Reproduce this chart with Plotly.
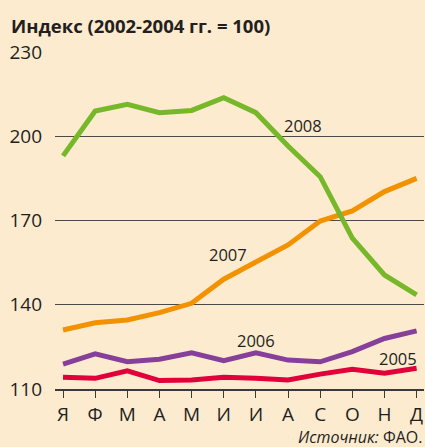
import plotly.graph_objects as go

months = ["Я", "Ф", "М", "А", "М", "И", "И", "А", "С", "О", "Н", "Д"]
y2008 = [193, 209, 211.4, 208.4, 209.2, 213.7, 208.4, 196.5, 185.6, 163.7, 150.6, 143.5]
y2007 = [131, 133.6, 134.6, 137.2, 140.5, 149.1, 155.2, 161.3, 169.8, 173.4, 180.3, 185]
y2006 = [118.9, 122.5, 119.7, 120.6, 122.9, 120.1, 122.9, 120.3, 119.7, 123.3, 128, 130.7]
y2005 = [114.2, 113.8, 116.5, 113, 113.2, 114.2, 113.8, 113.2, 115.3, 117, 115.6, 117.4]
y_ticks = [110, 140, 170, 200, 230]

series = [
    ("2005", y2005, "#e2003a"),
    ("2006", y2006, "#86409a"),
    ("2007", y2007, "#f39200"),
    ("2008", y2008, "#76b82a"),
]
labels = [("2008", 7.47, 204), ("2007", 5.13, 158), ("2006", 6.0, 127.2), ("2005", 10.41, 120.9)]

xs = list(range(len(months)))
fig = go.Figure()
for name, ys, col in series:
    fig.add_trace(go.Scatter(x=xs, y=ys, mode="lines", name=name,
                             line=dict(color=col, width=5), showlegend=False,
                             hoverinfo="skip"))

txt = "#231f20"
for t, x, y in labels:
    fig.add_annotation(x=x, y=y, text=t, showarrow=False,
                       font=dict(size=16.5, color=txt, family="Open Sans"))

fig.add_annotation(xref="paper", yref="paper", x=-0.124, y=1.080, xanchor="left", yanchor="middle",
                   text="<b>Индекс (2002-2004 гг. = 100)</b>", showarrow=False,
                   font=dict(size=18.5, color=txt, family="Open Sans"))
fig.add_annotation(xref="paper", yref="paper", x=0.996, y=-0.1424, xanchor="right", yanchor="middle",
                   text="<i>Источник:</i> ФАО.", showarrow=False, borderpad=0,
                   font=dict(size=16, color=txt, family="Open Sans"))

fig.update_layout(
    width=425, height=447,
    margin=dict(l=55, r=1, t=52, b=58),
    paper_bgcolor="#fdebd0", plot_bgcolor="#fdebd0",
    font=dict(family="Open Sans", color=txt),
)
fig.update_xaxes(range=[-0.25, 11.23], tickvals=xs, ticktext=months,
                 showgrid=False, zeroline=False, showline=True, linecolor="#3a3a3a", linewidth=1.5,
                 ticks="outside", ticklen=7, tickcolor="#3a3a3a", tickwidth=1.2,
                 tickfont=dict(size=19, color=txt), fixedrange=True)
fig.update_yaxes(range=[110, 230], tickvals=y_ticks, showgrid=True, gridcolor="#4a4a4a",
                 gridwidth=1.2, zeroline=False, showline=False, ticks="",
                 ticklabelstandoff=12, tickfont=dict(size=19, color=txt), fixedrange=True)

fig.write_html("out.html", config={"displayModeBar": False},
               post_script="document.body.style.margin='0';document.body.style.overflow='hidden';")
